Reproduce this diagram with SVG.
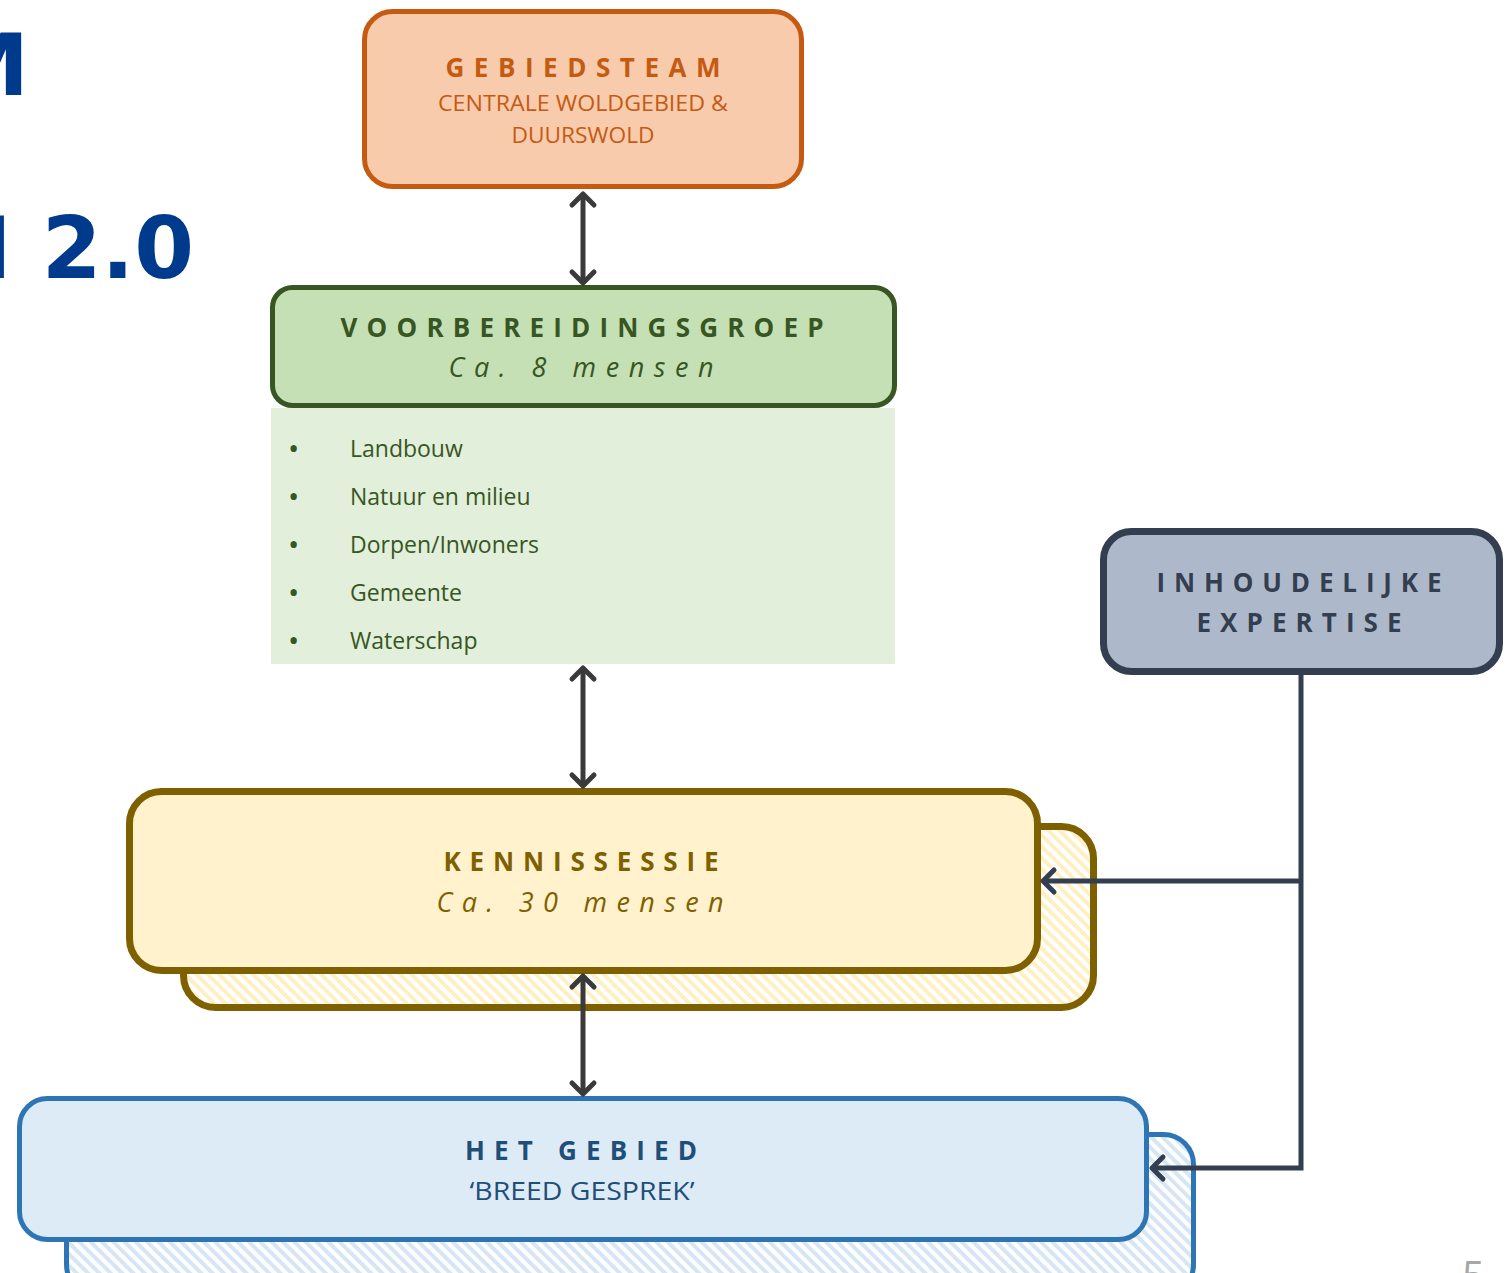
<svg xmlns="http://www.w3.org/2000/svg" width="1508" height="1273" viewBox="0 0 1508 1273">
<style>
.hd{font-family:"Open Sans","Liberation Sans",sans-serif;font-weight:700;font-size:26px;text-anchor:middle}
.sub{font-family:"Open Sans","Liberation Sans",sans-serif;font-size:22px;text-anchor:middle}
.it{font-family:"Open Sans","Liberation Sans",sans-serif;font-style:italic;font-size:27px;text-anchor:middle}
.li{font-family:"Open Sans","Liberation Sans",sans-serif;font-size:23px;fill:#375623}
.bu{font-family:"Open Sans","Liberation Sans",sans-serif;font-size:30px;fill:#375623}
.title{font-family:"DejaVu Sans",sans-serif;font-weight:700;font-size:86px;fill:#003A8C;text-anchor:end}
.arr{fill:none;stroke:#3A3A3A;stroke-width:5;marker-start:url(#ah);marker-end:url(#ah)}
.exp{fill:none;stroke:#333F50;stroke-width:5;marker-end:url(#ahx)}
</style>
<defs>
<marker id="ah" markerUnits="userSpaceOnUse" markerWidth="40" markerHeight="40" refX="0" refY="0" viewBox="-20 -20 40 40" orient="auto-start-reverse">
<path d="M-11 -11 L0 0 L-11 11" fill="none" stroke="#3A3A3A" stroke-width="5" stroke-linecap="round" stroke-linejoin="round"/>
</marker>
<marker id="ahx" markerUnits="userSpaceOnUse" markerWidth="40" markerHeight="40" refX="0" refY="0" viewBox="-20 -20 40 40" orient="auto">
<path d="M-11 -11 L0 0 L-11 11" fill="none" stroke="#333F50" stroke-width="5" stroke-linecap="round" stroke-linejoin="round"/>
</marker>
<pattern id="hy" patternUnits="userSpaceOnUse" width="8" height="8" patternTransform="rotate(-45)">
<rect width="8" height="8" fill="#FFFFFF"/><rect width="4" height="8" fill="#FFF0C4"/>
</pattern>
<pattern id="hb" patternUnits="userSpaceOnUse" width="8" height="8" patternTransform="rotate(-45)">
<rect width="8" height="8" fill="#FFFFFF"/><rect width="4" height="8" fill="#D6E6F5"/>
</pattern>
</defs>
<rect width="1508" height="1273" fill="#FFFFFF"/>
<g id="title">
<text class="title" x="29" y="95">M</text>
<text class="title" x="194" y="278">M 2.0</text>
</g>
<g id="gebiedsteam">
<rect x="364.5" y="11.5" width="437" height="175" rx="28" fill="#F8CBAD" stroke="#C55A11" stroke-width="5"/>
<text class="hd" x="583" y="77" fill="#C55A11" textLength="275" lengthAdjust="spacing">GEBIEDSTEAM</text>
<text class="sub" x="583" y="111" fill="#C55A11" textLength="290" lengthAdjust="spacingAndGlyphs">CENTRALE WOLDGEBIED &amp;</text>
<text class="sub" x="583" y="143" fill="#C55A11" textLength="143" lengthAdjust="spacingAndGlyphs">DUURSWOLD</text>
</g>
<g id="voorbereidingsgroep">
<rect x="271" y="408" width="624" height="256" fill="#E2EFDA"/>
<rect x="272.5" y="287.5" width="622" height="118" rx="20" fill="#C5E0B4" stroke="#375623" stroke-width="5"/>
<text class="hd" x="582" y="337" fill="#375623" textLength="483" lengthAdjust="spacing">VOORBEREIDINGSGROEP</text>
<text class="it" x="581" y="377" fill="#375623" textLength="265" lengthAdjust="spacing">Ca. 8 mensen</text>
<text class="bu" x="288" y="459">•</text><text class="li" x="350" y="457">Landbouw</text>
<text class="bu" x="288" y="507">•</text><text class="li" x="350" y="505">Natuur en milieu</text>
<text class="bu" x="288" y="555">•</text><text class="li" x="350" y="553">Dorpen/Inwoners</text>
<text class="bu" x="288" y="603">•</text><text class="li" x="350" y="601">Gemeente</text>
<text class="bu" x="288" y="651">•</text><text class="li" x="350" y="649">Waterschap</text>
</g>
<g id="inhoudelijke-expertise">
<rect x="1103.5" y="531.5" width="396" height="140" rx="28" fill="#ADB9CA" stroke="#333F50" stroke-width="7"/>
<text class="hd" x="1299" y="592" fill="#333F50" textLength="285" lengthAdjust="spacing">INHOUDELIJKE</text>
<text class="hd" x="1299" y="632" fill="#333F50" textLength="205" lengthAdjust="spacing">EXPERTISE</text>
</g>
<g id="kennissessie">
<rect x="183.5" y="826.5" width="910" height="181" rx="32" fill="url(#hy)" stroke="#7F6000" stroke-width="7"/>
<rect x="129.5" y="791.5" width="908" height="179" rx="32" fill="#FFF2CC" stroke="#7F6000" stroke-width="7"/>
<text class="hd" x="581" y="871" fill="#7F6000" textLength="275" lengthAdjust="spacing">KENNISSESSIE</text>
<text class="it" x="580" y="912" fill="#7F6000" textLength="287" lengthAdjust="spacing">Ca. 30 mensen</text>
</g>
<g id="het-gebied">
<rect x="66.5" y="1134.5" width="1127" height="160" rx="30" fill="url(#hb)" stroke="#2E75B6" stroke-width="5"/>
<rect x="19.5" y="1098.5" width="1127" height="141" rx="28" fill="#DDEBF7" stroke="#2E75B6" stroke-width="5"/>
<text class="hd" x="581" y="1160" fill="#1F4E79" textLength="232" lengthAdjust="spacing">HET GEBIED</text>
<text class="sub" x="582" y="1200" fill="#1F4E79" style="font-size:26px" textLength="225" lengthAdjust="spacingAndGlyphs">‘BREED GESPREK’</text>
</g>
<g id="page-number">
<text x="1462" y="1290" font-family="Open Sans, Liberation Sans, sans-serif" font-size="40" fill="#A6A6A6">5</text>
</g>
<g id="connectors">
<path class="arr" d="M583 194 V283"/>
<path class="arr" d="M583 668 V786"/>
<path class="arr" d="M583 976 V1094"/>
<path class="exp" d="M1301 675 V1168 H1152"/>
<path class="exp" d="M1301 881 H1043"/>
</g>
</svg>
